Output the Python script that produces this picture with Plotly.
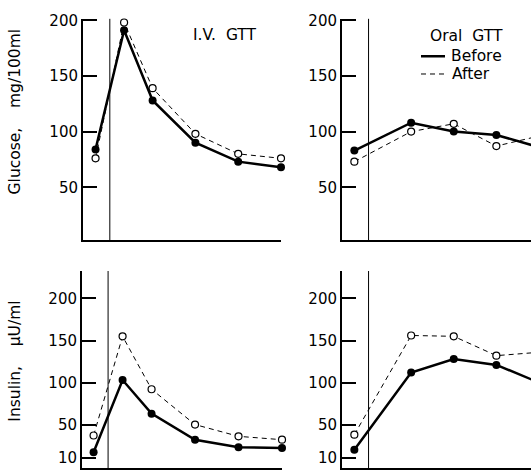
import plotly.graph_objects as go

# ---- data ----
IV_TIME = [-5, 5, 15, 30, 45, 60]          # minutes
ORAL_TIME = [-10, 30, 60, 90, 120]          # minutes

IV_GLU_BEFORE = [84, 191, 128, 90, 73, 68]
IV_GLU_AFTER = [76, 198, 139, 98, 80, 76]
ORAL_GLU_BEFORE = [83, 108, 100, 97, 86]
ORAL_GLU_AFTER = [73, 100, 107, 87, 96]

IV_INS_BEFORE = [17, 103, 63, 32, 23, 22]
IV_INS_AFTER = [37, 155, 92, 50, 36, 32]
ORAL_INS_BEFORE = [20, 112, 128, 121, 100]
ORAL_INS_AFTER = [38, 156, 155, 132, 136]

GLU_TICKS = [50, 100, 150, 200]
INS_TICKS = [10, 50, 100, 150, 200]

W, H = 531, 470
FONT = "DejaVu Sans"

fig = go.Figure()

panels = [
    # (xaxis, yaxis, time, before, after)
    ("x", "y", IV_TIME, IV_GLU_BEFORE, IV_GLU_AFTER),
    ("x2", "y2", ORAL_TIME, ORAL_GLU_BEFORE, ORAL_GLU_AFTER),
    ("x3", "y3", IV_TIME, IV_INS_BEFORE, IV_INS_AFTER),
    ("x4", "y4", ORAL_TIME, ORAL_INS_BEFORE, ORAL_INS_AFTER),
]

for xa, ya, t, before, after in panels:
    fig.add_trace(go.Scatter(
        x=t, y=after, xaxis=xa, yaxis=ya, mode="lines+markers",
        line=dict(color="black", width=1, dash="5px,4px"),
        marker=dict(symbol="circle", size=7, color="white",
                    line=dict(color="black", width=1.2)),
        cliponaxis=False, showlegend=False))
    fig.add_trace(go.Scatter(
        x=t, y=before, xaxis=xa, yaxis=ya, mode="lines+markers",
        line=dict(color="black", width=2.5),
        marker=dict(symbol="circle", size=8, color="black"),
        cliponaxis=False, showlegend=False))

def px_x(p):
    return p / W

def px_y(p):
    return 1 - p / H

xcommon = dict(showline=True, linecolor="black", linewidth=2, showgrid=False,
               zeroline=False, showticklabels=False, ticks="", fixedrange=True)
ycommon = dict(showline=True, linecolor="black", linewidth=2, showgrid=False,
               zeroline=False, ticks="inside", ticklen=14, tickwidth=1.5,
               tickcolor="black", tickfont=dict(family=FONT, size=15, color="black"),
               fixedrange=True)

top_dom = [px_y(237), px_y(12)]
bot_dom = [px_y(468), px_y(268)]

fig.update_layout(
    width=W, height=H, margin=dict(l=0, r=0, t=0, b=0),
    paper_bgcolor="white", plot_bgcolor="white",
    xaxis=dict(domain=[px_x(83), px_x(281)], range=[-9.4, 60], anchor="y", **xcommon),
    yaxis=dict(domain=top_dom, range=[2.2, 201.3], tickvals=GLU_TICKS, anchor="x", **ycommon),
    xaxis2=dict(domain=[px_x(342), 1.0], range=[-18.7, 114.4], anchor="y2", **xcommon),
    yaxis2=dict(domain=top_dom, range=[2.2, 201.3], tickvals=GLU_TICKS, anchor="x2", **ycommon),
    xaxis3=dict(domain=[px_x(82), px_x(282)], range=[-9.0, 60], anchor="y3", **xcommon),
    yaxis3=dict(domain=bot_dom, range=[-1.7, 232.7], tickvals=INS_TICKS, anchor="x3", **ycommon),
    xaxis4=dict(domain=[px_x(342), 1.0], range=[-18.7, 114.4], anchor="y4", **xcommon),
    yaxis4=dict(domain=bot_dom, range=[-1.7, 232.7], tickvals=INS_TICKS, anchor="x4", **ycommon),
)

# time-zero reference lines
for xr, yr in [("x", "y"), ("x2", "y2"), ("x3", "y3"), ("x4", "y4")]:
    fig.add_shape(type="line", xref=xr, yref=yr + " domain", x0=0, x1=0, y0=0, y1=1,
                  line=dict(color="black", width=1))

# legend samples
fig.add_shape(type="line", xref="paper", yref="paper", x0=px_x(421), x1=px_x(445),
              y0=px_y(50), y1=px_y(50), line=dict(color="black", width=2.5))
fig.add_shape(type="line", xref="paper", yref="paper", x0=px_x(421), x1=px_x(445),
              y0=px_y(68), y1=px_y(68), line=dict(color="black", width=1, dash="5px,4px"))

def ann(text, x, y, xanchor="center", angle=0, size=15.5):
    fig.add_annotation(text=text, xref="paper", yref="paper", x=px_x(x), y=px_y(y),
                       xanchor=xanchor, yanchor="middle", showarrow=False, textangle=angle,
                       font=dict(family=FONT, size=size, color="black"))

ann("I.V.  GTT", 225, 28)
ann("Oral  GTT", 466, 29)
ann("Before", 449, 50, xanchor="left")
ann("After", 450, 68, xanchor="left")
ann("Glucose,    mg/100ml", 15, 106, angle=-90)
ann("Insulin,    μU/ml", 15, 360, angle=-90)

fig.write_html("out.html")
